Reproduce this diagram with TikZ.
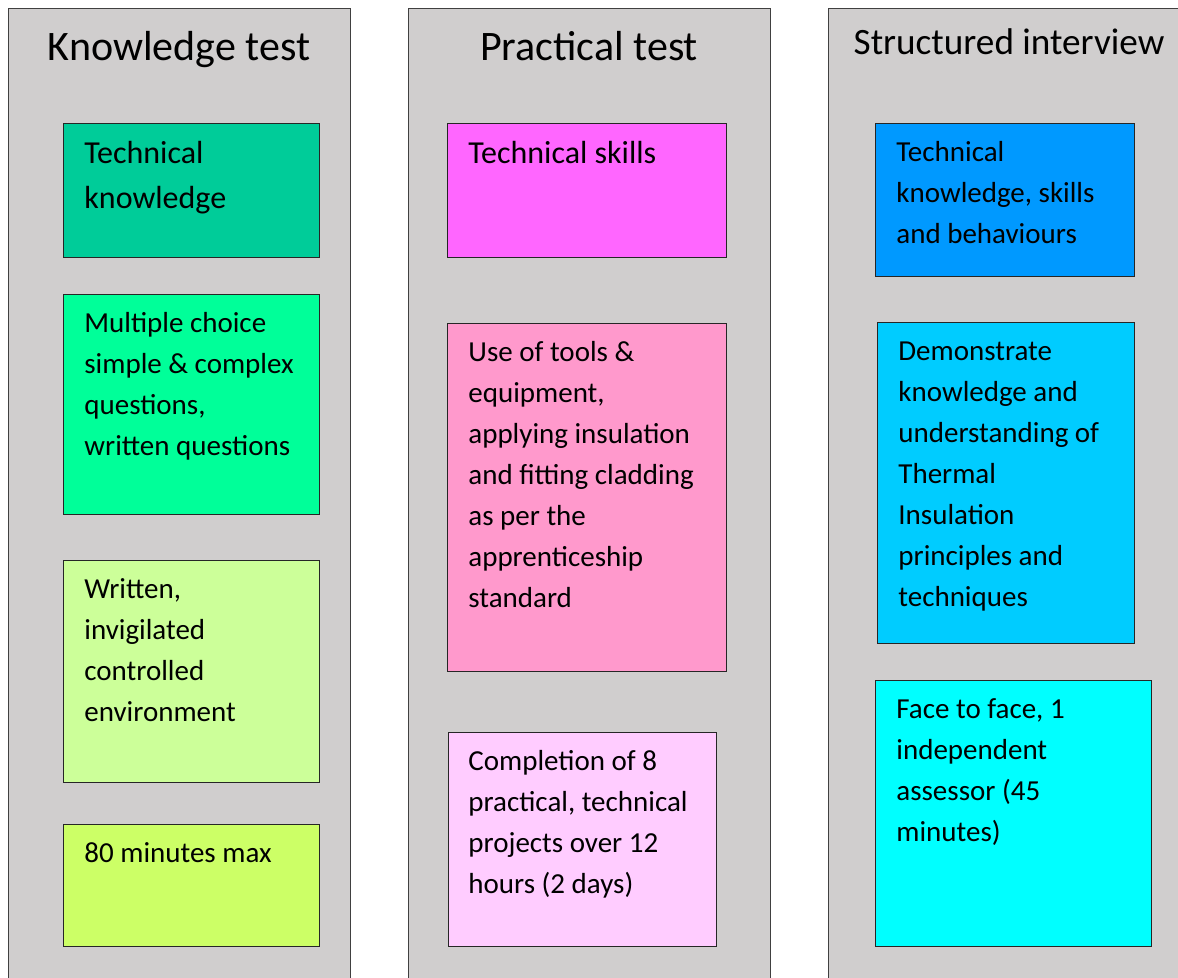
\documentclass[tikz,border=0pt]{standalone}
\usepackage{fontspec}
\setmainfont{Carlito}
\usepackage{tikz}
\usetikzlibrary{positioning}

\definecolor{lanegray}{HTML}{D0CECE}
\definecolor{kgA}{HTML}{00CC99}
\definecolor{kgB}{HTML}{00FF99}
\definecolor{kgC}{HTML}{CCFF99}
\definecolor{kgD}{HTML}{CCFF66}
\definecolor{pmA}{HTML}{FF66FF}
\definecolor{pmB}{HTML}{FF99CC}
\definecolor{pmC}{HTML}{FFCCFF}
\definecolor{blA}{HTML}{0099FF}
\definecolor{blB}{HTML}{00CCFF}
\definecolor{blC}{HTML}{00FFFF}

\tikzset{
  lane/.style = {draw=black!75, fill=lanegray, line width=0.6pt, anchor=north west,
                 inner sep=0, minimum width=#1, minimum height=496pt},
  card/.style = {draw=black!85, line width=0.6pt, anchor=north west, inner sep=0},
  cardtext/.style = {anchor=north west, inner sep=0, align=left,
                     font=\fontsize{14.5}{20.5}\selectfont},
  bigtext/.style = {cardtext, font=\fontsize{16}{22.5}\selectfont},
  heading/.style = {anchor=base, inner sep=0, font=\fontsize{21}{25}\selectfont}
}

\begin{document}
\begin{tikzpicture}[x=0.5pt, y=-0.5pt]
\useasboundingbox (0,0) rectangle (1178,978);
\clip (0,0) rectangle (1178,978);

% the three lanes
\node[lane=171pt] (kl) at (8,8) {};
\node[lane=181pt] (pl) at (408,8) {};
\node[lane=181pt] (sl) at (828,8) {};
\node[heading] (kh) at (179,61) {Knowledge test};
\node[heading] (ph) at (589,61) {Practical test};
\node[heading, font=\fontsize{18.6}{22}\selectfont] (sh) at (1009,55) {Structured interview};

% knowledge test
\node[card, fill=kgA, minimum width=128pt, minimum height=67pt] (kt1) at (63,123) {};
\node[card, fill=kgB, minimum width=128pt, minimum height=110pt] (kt2) at (63,294) {};
\node[card, fill=kgC, minimum width=128pt, minimum height=111pt] (kt3) at (63,560) {};
\node[card, fill=kgD, minimum width=128pt, minimum height=61pt] (kt4) at (63,824) {};
\node[bigtext] at ([xshift=10.5pt, yshift=-4.3pt]kt1.north west) {\strut Technical\\knowledge};
\node[cardtext] at ([xshift=10.5pt, yshift=-4.9pt]kt2.north west) {\strut Multiple choice\\simple \& complex\\questions,\\written questions};
\node[cardtext] at ([xshift=10.5pt, yshift=-4.9pt]kt3.north west) {\strut Written,\\invigilated\\controlled\\environment};
\node[cardtext] at ([xshift=10.5pt, yshift=-4.9pt]kt4.north west) {\strut 80 minutes max};

% practical test
\node[card, fill=pmA, minimum width=139.5pt, minimum height=67pt] (pt1) at (447,123) {};
\node[card, fill=pmB, minimum width=139.5pt, minimum height=174pt] (pt2) at (447,323) {};
\node[card, fill=pmC, minimum width=134pt, minimum height=107pt] (pt3) at (448,732) {};
\node[bigtext] at ([xshift=10.5pt, yshift=-4.3pt]pt1.north west) {\strut Technical skills};
\node[cardtext] at ([xshift=10.5pt, yshift=-4.9pt]pt2.north west) {\strut Use of tools \&\\equipment,\\applying insulation\\and fitting cladding\\as per the\\apprenticeship\\standard};
\node[cardtext] at ([xshift=10pt, yshift=-4.9pt]pt3.north west) {\strut Completion of 8\\practical, technical\\projects over 12\\hours (2 days)};

% structured interview
\node[card, fill=blA, minimum width=129.5pt, minimum height=76.5pt] (si1) at (875,123) {};
\node[card, fill=blB, minimum width=128.5pt, minimum height=160.5pt] (si2) at (877,322) {};
\node[card, fill=blC, minimum width=138pt, minimum height=133pt] (si3) at (875,680) {};
\node[cardtext] at ([xshift=10.5pt, yshift=-4.9pt]si1.north west) {\strut Technical\\knowledge, skills\\and behaviours};
\node[cardtext] at ([xshift=10.5pt, yshift=-4.9pt]si2.north west) {\strut Demonstrate\\knowledge and\\understanding of\\Thermal\\Insulation\\principles and\\techniques};
\node[cardtext] at ([xshift=10.5pt, yshift=-4.9pt]si3.north west) {\strut Face to face, 1\\independent\\assessor (45\\minutes)};
\end{tikzpicture}
\end{document}
